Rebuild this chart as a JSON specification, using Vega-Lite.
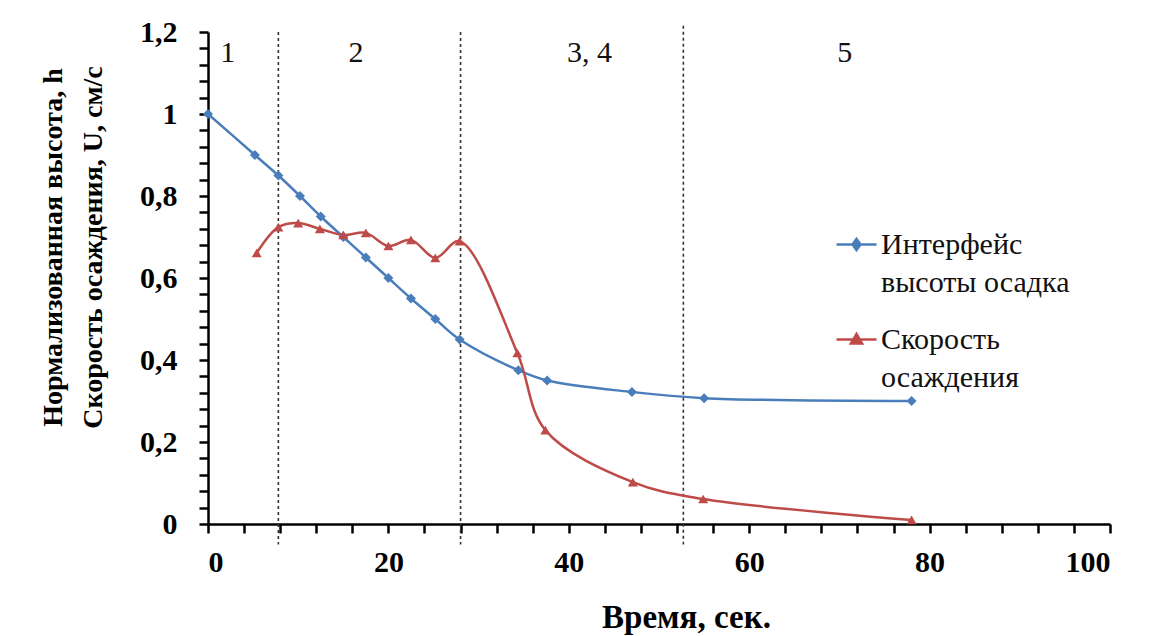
{
  "$schema": "https://vega.github.io/schema/vega-lite/v6.json",
  "width": 902,
  "height": 492,
  "autosize": {"type": "none"},
  "padding": {"left": 208, "top": 32, "right": 61, "bottom": 112},
  "background": "white",
  "config": {
    "view": {"stroke": null},
    "font": "Liberation Serif",
    "axis": {"grid": false, "domainColor": "black", "domainWidth": 2.5, "tickColor": "black", "tickWidth": 2.5, "tickSize": 9, "ticks": true,
      "labelFont": "Liberation Serif", "labelFontWeight": "bold", "labelFontSize": 30, "labelColor": "black",
      "titleFont": "Liberation Serif", "titleFontWeight": "bold", "titleFontSize": 28, "titleColor": "black"}
  },
  "datasets": {
    "series": [
      {"t": 0, "v": 1.0, "s": "Интерфейс высоты осадка"},
      {"t": 5.2, "v": 0.9, "s": "Интерфейс высоты осадка"},
      {"t": 7.8, "v": 0.85, "s": "Интерфейс высоты осадка"},
      {"t": 10.2, "v": 0.8, "s": "Интерфейс высоты осадка"},
      {"t": 12.5, "v": 0.75, "s": "Интерфейс высоты осадка"},
      {"t": 15, "v": 0.7, "s": "Интерфейс высоты осадка"},
      {"t": 17.5, "v": 0.65, "s": "Интерфейс высоты осадка"},
      {"t": 20, "v": 0.6, "s": "Интерфейс высоты осадка"},
      {"t": 22.5, "v": 0.55, "s": "Интерфейс высоты осадка"},
      {"t": 25.2, "v": 0.5, "s": "Интерфейс высоты осадка"},
      {"t": 27.9, "v": 0.45, "s": "Интерфейс высоты осадка"},
      {"t": 34.4, "v": 0.375, "s": "Интерфейс высоты осадка"},
      {"t": 37.6, "v": 0.35, "s": "Интерфейс высоты осадка"},
      {"t": 47, "v": 0.322, "s": "Интерфейс высоты осадка"},
      {"t": 55, "v": 0.307, "s": "Интерфейс высоты осадка"},
      {"t": 78, "v": 0.3, "s": "Интерфейс высоты осадка"},
      {"t": 5.4, "v": 0.661, "s": "Скорость осаждения"},
      {"t": 7.8, "v": 0.724, "s": "Скорость осаждения"},
      {"t": 10, "v": 0.734, "s": "Скорость осаждения"},
      {"t": 12.4, "v": 0.72, "s": "Скорость осаждения"},
      {"t": 15, "v": 0.705, "s": "Скорость осаждения"},
      {"t": 17.5, "v": 0.71, "s": "Скорость осаждения"},
      {"t": 20, "v": 0.678, "s": "Скорость осаждения"},
      {"t": 22.5, "v": 0.693, "s": "Скорость осаждения"},
      {"t": 25.2, "v": 0.649, "s": "Скорость осаждения"},
      {"t": 27.9, "v": 0.69, "s": "Скорость осаждения"},
      {"t": 34.3, "v": 0.417, "s": "Скорость осаждения"},
      {"t": 37.4, "v": 0.229, "s": "Скорость осаждения"},
      {"t": 47.1, "v": 0.102, "s": "Скорость осаждения"},
      {"t": 54.9, "v": 0.061, "s": "Скорость осаждения"},
      {"t": 78, "v": 0.01, "s": "Скорость осаждения"}
    ],
    "bounds": [{"t": 7.8, "top": 1.2}, {"t": 28, "top": 1.2}, {"t": 52.7, "top": 1.215}],
    "regions": [
      {"t": 2.2, "v": 1.15, "label": "1"},
      {"t": 16.4, "v": 1.15, "label": "2"},
      {"t": 42.3, "v": 1.15, "label": "3, 4"},
      {"t": 70.6, "v": 1.15, "label": "5"}
    ]
  },
  "layer": [
    {
      "data": {"name": "bounds"},
      "mark": {"type": "rule", "strokeDash": [3, 3], "color": "#333", "strokeWidth": 1.6},
      "encoding": {
        "x": {"field": "t", "type": "quantitative"},
        "y": {"field": "top", "type": "quantitative"},
        "y2": {"datum": -0.05}
      }
    },
    {
      "data": {"name": "regions"},
      "mark": {"type": "text", "font": "Liberation Serif", "fontSize": 30, "color": "#111", "baseline": "middle", "align": "center"},
      "encoding": {
        "x": {"field": "t", "type": "quantitative"},
        "y": {"field": "v", "type": "quantitative"},
        "text": {"field": "label"}
      }
    },
    {
      "data": {"name": "series"},
      "mark": {"type": "line", "interpolate": "catmull-rom", "strokeWidth": 2.5},
      "encoding": {
        "x": {"field": "t", "type": "quantitative", "scale": {"domain": [0, 100], "nice": false},
          "axis": {"title": "Время, сек.", "titleFontSize": 33, "tickCount": 40, "format": "d", "values": [0,4,8,12,16,20,24,28,32,36,40,44,48,52,56,60,64,68,72,76,80,84,88,92,96,100],
            "labelExpr": "datum.value % 20 == 0 ? datum.label : ''", "labelOverlap": false, "labelPadding": 14, "titlePadding": 24, "titleX": 478}},
        "y": {"field": "v", "type": "quantitative", "scale": {"domain": [0, 1.2], "nice": false},
          "axis": {"title": ["Нормализованная высота, h", "Скорость осаждения, U, см/с"], "titleLineHeight": 40, "titlePadding": 32, "titleY": 215, "tickCount": 40,
            "values": [0,0.04,0.08,0.12,0.16,0.2,0.24,0.28,0.32,0.36,0.4,0.44,0.48,0.52,0.56,0.6,0.64,0.68,0.72,0.76,0.8,0.84,0.88,0.92,0.96,1,1.04,1.08,1.12,1.16,1.2],
            "labelExpr": "abs(round(datum.value*5) - datum.value*5) < 0.001 ? replace(format(datum.value, '.1~f'), '.', ',') : ''", "labelOverlap": false, "labelPadding": 22}},
        "color": {"field": "s", "type": "nominal",
          "scale": {"domain": ["Интерфейс высоты осадка", "Скорость осаждения"], "range": ["#4a7ebb", "#be4b48"]},
          "legend": {"title": null, "orient": "none", "legendX": 627, "legendY": 191, "padding": 0,
            "symbolSize": 1600, "symbolStrokeWidth": 2.5, "rowPadding": 20, "labelOffset": 3,
            "labelFont": "Liberation Serif", "labelFontSize": 30, "labelColor": "#111", "labelLimit": 0,
            "labelExpr": "datum.label == 'Интерфейс высоты осадка' ? ['Интерфейс', 'высоты осадка'] : ['Скорость', 'осаждения']",
            "encode": {
              "symbols": {"update": {
                "shape": {"signal": "datum.value == 'Интерфейс высоты осадка' ? 'M-1,0L1,0M0,-0.28L0.2,0L0,0.28L-0.2,0Z' : 'M-1,0L1,0M0,-0.28L0.28,0.2L-0.28,0.2Z'"},
                "fill": {"scale": "color", "field": "value"},
                "stroke": {"scale": "color", "field": "value"}
              }},
              "labels": {"update": {"lineHeight": {"value": 38}}}
            }}
        }
      }
    },
    {
      "data": {"name": "series"},
      "mark": {"type": "point", "filled": true, "opacity": 1},
      "encoding": {
        "x": {"field": "t", "type": "quantitative"},
        "y": {"field": "v", "type": "quantitative"},
        "color": {"field": "s", "type": "nominal", "legend": null},
        "shape": {"field": "s", "type": "nominal", "scale": {"range": ["diamond", "triangle-up"]}, "legend": null},
        "size": {"value": 100}
      }
    }
  ]
}
